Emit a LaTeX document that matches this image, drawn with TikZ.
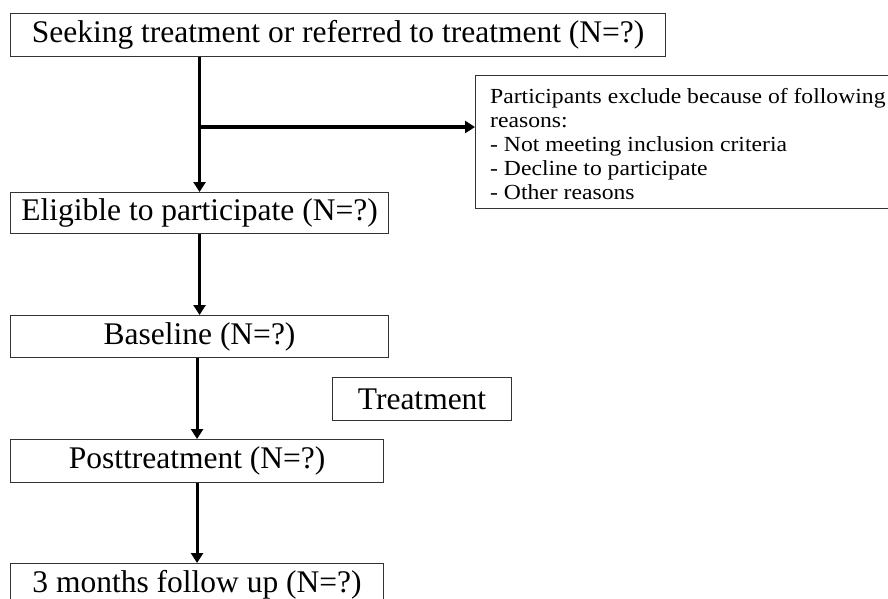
\documentclass[tikz,border=0pt]{standalone}
\usepackage{fontspec}
\setmainfont{Liberation Serif}
\newfontfamily\exclfont[FakeStretch=1.1]{Liberation Serif}
\usetikzlibrary{arrows.meta,calc}
\tikzset{
  box/.style={draw=black!80, line width=1.1pt, inner sep=0pt, anchor=north west,
    font=\fontsize{31.5}{35}\selectfont},
  arr/.style={-{Triangle[length=10pt,width=12pt]}, line width=3.1pt},
  listtext/.style={inner sep=0pt, anchor=north west, align=left,
    font=\exclfont\fontsize{21.5}{24}\selectfont}
}
\begin{document}
\begin{tikzpicture}[x=1pt,y=-1pt]
\useasboundingbox (0,0) rectangle (888,598);
\clip (0,0) rectangle (888,598);
\node[box, minimum width=655pt, minimum height=43pt] (seek) at (10,13) {Seeking treatment or referred to treatment (N=?)};
\node[box, minimum width=378pt, minimum height=41pt] (elig) at (10,192) {Eligible to participate (N=?)};
\node[box, minimum width=378pt, minimum height=42pt] (base) at (10,315) {Baseline (N=?)};
\node[box, minimum width=179pt, minimum height=43pt] (treat) at (332,377) {Treatment};
\node[box, minimum width=373pt, minimum height=43pt] (post) at (10,439) {Posttreatment (N=?)};
\node[box, minimum width=373pt, minimum height=43pt] (follow) at (10,563) {3 months follow up (N=?)};
\node[box, minimum width=440pt, minimum height=133pt] (excl) at (475,75) {};
\node[listtext] (excltext) at (490,88) {Participants exclude because of following\\reasons:\\- Not meeting inclusion criteria\\- Decline to participate\\- Other reasons};
\draw[arr] (seek.south -| elig.north) -- (elig.north);
\path (elig.north) ++(0,-65) coordinate (br);
\draw[arr] (br) -- (br -| excl.west);
\draw[arr] (elig.south) -- (base.north);
\draw[arr] (base.south -| post.north) -- (post.north);
\draw[arr] (post.south) -- (follow.north);
\end{tikzpicture}
\end{document}
